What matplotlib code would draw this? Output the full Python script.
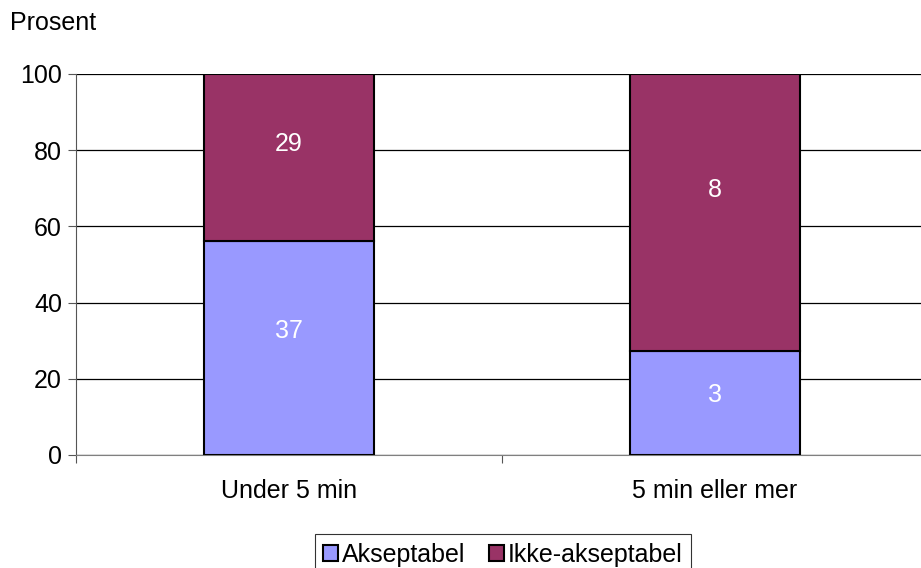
import numpy as np
import matplotlib.pyplot as plt
from matplotlib.patches import Patch

plt.rcParams['font.family'] = ['Liberation Sans', 'DejaVu Sans']

kategorier = ['Under 5 min', '5 min eller mer']
akseptabel = [37, 3]
ikke_akseptabel = [29, 8]
serier = ['Akseptabel', 'Ikke-akseptabel']
farger = ['#9999FF', '#993366']

a = np.array(akseptabel, dtype=float)
b = np.array(ikke_akseptabel, dtype=float)
tot = a + b
pa = a / tot * 100
pb = b / tot * 100

fs = 18
lab_pos = 0.58  # etikettene sitter litt over midten av segmentet

fig = plt.figure(figsize=(9.21, 5.68), dpi=100)
ax = fig.add_axes([76 / 921, 1 - 455 / 568, 852 / 921, 381 / 568])

x = np.arange(len(kategorier))
ax.bar(x, pa, width=0.4, color=farger[0], edgecolor='black', linewidth=1.5, zorder=3)
ax.bar(x, pb, width=0.4, bottom=pa, color=farger[1], edgecolor='black', linewidth=1.5, zorder=3)

# antall i hvert segment
for i in range(len(x)):
    ax.text(x[i], pa[i] * lab_pos, str(akseptabel[i]), ha='center', va='center',
            color='white', fontsize=fs, zorder=4)
    ax.text(x[i], pa[i] + pb[i] * lab_pos, str(ikke_akseptabel[i]), ha='center', va='center',
            color='white', fontsize=fs, zorder=4)

ax.set_xlim(-0.5, 1.5)
ax.set_ylim(0, 100)
ax.set_yticks(range(0, 101, 20))
ax.yaxis.grid(True, color='black', linewidth=0.9)
ax.set_axisbelow(True)

ax.set_xticks([-0.5, 0.5, 1.5])
ax.set_xticklabels([])
ax.set_xticks(x, minor=True)
ax.set_xticklabels(kategorier, minor=True, fontsize=fs)
ax.tick_params(axis='x', which='minor', length=0, pad=17)
ax.tick_params(axis='x', which='major', length=6, color='#555555')
ax.tick_params(axis='y', length=6, color='#555555', labelsize=fs, pad=4)

for s in ['top', 'right']:
    ax.spines[s].set_visible(False)
ax.spines['left'].set_color('#555555')
ax.spines['bottom'].set_color('#808080')

fig.text(10 / 921, 1 - 23 / 568, 'Prosent', fontsize=fs, va='center', ha='left')

handles = [Patch(facecolor=f, edgecolor='black', linewidth=1.5) for f in farger]
leg = fig.legend(handles, serier, loc='upper center', bbox_to_anchor=(503 / 921, 1 - 534 / 568),
                 ncol=2, fontsize=fs, frameon=True, fancybox=False, edgecolor='black',
                 handlelength=0.6, handleheight=0.6, handletextpad=0.15, columnspacing=0.95,
                 borderpad=0.35, borderaxespad=0)
leg.get_frame().set_linewidth(0.8)

fig.savefig('out.png', dpi=100)
